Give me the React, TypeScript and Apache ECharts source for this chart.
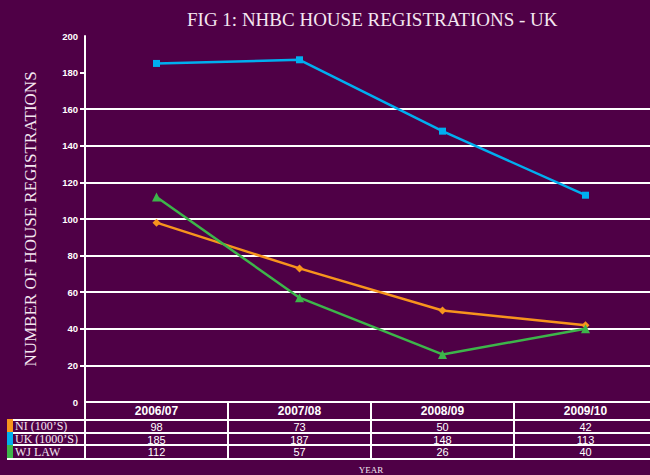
import React, { useEffect, useRef } from "react";
import * as echarts from "echarts";

const categories = ["2006/07", "2007/08", "2008/09", "2009/10"];
const seriesNames = ["NI (100’S)", "UK (1000’S)", "WJ LAW"];
const niValues = [98, 73, 50, 42];
const ukValues = [185, 187, 148, 113];
const wjValues = [112, 57, 26, 40];
const yTickValues = [20, 40, 60, 80, 100, 120, 140, 160, 180];

const BG = "#4f0046";
const TXT = "#f4e6f0";
const COLORS = ["#f7941d", "#00aeef", "#3db54a"];

export default function App() {
  const ref = useRef<HTMLDivElement>(null);
  useEffect(() => {
    document.body.style.margin = "0";
    const chart = echarts.init(ref.current!, null, { renderer: "svg" });
    const gridBottomY = 402;
    const rowOffsets = [18, 31, 43, 57];
    const valueRows = [niValues, ukValues, wjValues];
    const rowAxes = valueRows.map((vals, i) => ({
      type: "category",
      gridIndex: 0,
      position: "bottom",
      offset: rowOffsets[i],
      data: vals.map((v) => String(v)),
      boundaryGap: true,
      axisLine: { show: true, lineStyle: { color: "#ffffff", width: 2 } },
      axisTick: { show: false },
      axisLabel: {
        show: true,
        interval: 0,
        margin: 1,
        color: "#ffffff",
        fontFamily: "Liberation Sans",
        fontSize: 11,
        lineHeight: 11,
      },
      axisPointer: { show: false },
    }));
    const bottomAxis = {
      type: "category",
      gridIndex: 0,
      position: "bottom",
      offset: rowOffsets[3],
      data: categories.map(() => ""),
      boundaryGap: true,
      axisLine: { show: true, lineStyle: { color: "#ffffff", width: 2 } },
      axisTick: { show: false },
      axisLabel: { show: false },
      name: "YEAR",
      nameLocation: "middle",
      nameGap: 6,
      nameTextStyle: {
        color: TXT,
        fontFamily: "Liberation Serif",
        fontSize: 9,
        lineHeight: 9,
        verticalAlign: "top",
      },
    };
    const symbols = ["diamond", "rect", "triangle"];
    const symbolSizes = [8, 7, 9];
    chart.setOption({
      animation: false,
      backgroundColor: BG,
      title: {
        text: "FIG 1: NHBC HOUSE REGISTRATIONS - UK",
        left: 182,
        top: 5,
        textStyle: {
          color: TXT,
          fontFamily: "Liberation Serif",
          fontSize: 19,
          fontWeight: "normal",
        },
      },
      legend: {
        orient: "vertical",
        left: 7,
        top: 419,
        icon: "rect",
        itemWidth: 6,
        itemHeight: 13,
        itemGap: 0,
        padding: 0,
        data: seriesNames,
        textStyle: {
          color: TXT,
          fontFamily: "Liberation Serif",
          fontSize: 12,
          lineHeight: 12,
          padding: [0, 0, 0, -3],
        },
      },
      grid: {
        left: 85,
        right: -7,
        top: 36,
        bottom: 475 - gridBottomY,
        outerBoundsMode: "none",
        containLabel: false,
      },
      xAxis: [
        {
          type: "category",
          data: categories,
          boundaryGap: true,
          axisLine: { show: true, lineStyle: { color: "#ffffff", width: 2 } },
          axisTick: {
            show: true,
            interval: 0,
            length: rowOffsets[3],
            lineStyle: { color: "#ffffff", width: 2 },
          },
          axisLabel: {
            interval: 0,
            margin: 3,
            color: "#ffffff",
            fontFamily: "Liberation Sans",
            fontWeight: "bold",
            fontSize: 12,
          },
        },
        ...rowAxes,
        bottomAxis,
      ],
      yAxis: {
        type: "value",
        min: 0,
        max: 200,
        interval: 20,
        name: "NUMBER OF HOUSE REGISTRATIONS",
        nameLocation: "middle",
        nameRotate: 90,
        nameGap: 46,
        nameTextStyle: {
          color: TXT,
          fontFamily: "Liberation Serif",
          fontSize: 17,
        },
        axisLine: { show: true, lineStyle: { color: "#ffffff", width: 2 } },
        axisTick: {
          show: true,
          length: 5,
          customValues: yTickValues,
          lineStyle: { color: "#ffffff", width: 2 },
        },
        axisLabel: {
          margin: 7,
          color: "#ffffff",
          fontFamily: "Liberation Sans",
          fontWeight: "bold",
          fontSize: 9.5,
        },
        splitLine: {
          show: true,
          showMaxLine: false,
          lineStyle: { color: "#ffffff", width: 2 },
        },
      },
      graphic: rowOffsets.map((off) => ({
        type: "line",
        shape: { x1: 7, y1: gridBottomY + off, x2: 86, y2: gridBottomY + off },
        style: { stroke: "#ffffff", lineWidth: 2 },
      })),
      series: [niValues, ukValues, wjValues].map((vals, i) => ({
        name: seriesNames[i],
        type: "line",
        data: vals,
        xAxisIndex: 0,
        yAxisIndex: 0,
        color: COLORS[i],
        symbol: symbols[i],
        symbolSize: symbolSizes[i],
        showSymbol: true,
        lineStyle: { color: COLORS[i], width: 2.5 },
        itemStyle: { color: COLORS[i] },
        z: 3 + i,
      })),
    });
    return () => chart.dispose();
  }, []);
  return (
    <div
      ref={ref}
      style={{
        position: "absolute",
        left: 0,
        top: 0,
        width: 650,
        height: 475,
        background: BG,
      }}
    />
  );
}
